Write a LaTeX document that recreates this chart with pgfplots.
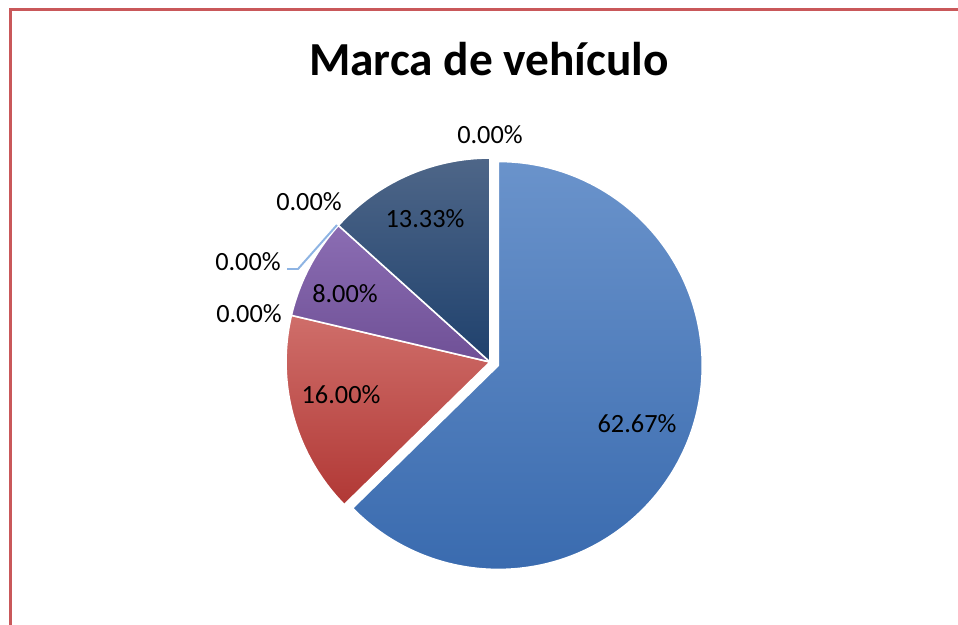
\documentclass[border=0pt]{standalone}
\usepackage{pgfplots}
\pgfplotsset{compat=1.18}
\usepackage{pgfplotstable}
\usepackage{fontspec}
\setmainfont{Carlito}
\definecolor{topc0}{HTML}{6A93CB}\definecolor{botc0}{HTML}{3A6BAF}
\definecolor{topc1}{HTML}{CF6E6A}\definecolor{botc1}{HTML}{B13835}
\definecolor{topc2}{HTML}{AFCB74}\definecolor{botc2}{HTML}{86A646}
\definecolor{topc3}{HTML}{8B6DB3}\definecolor{botc3}{HTML}{6F5096}
\definecolor{topc4}{HTML}{6BC0D6}\definecolor{botc4}{HTML}{3397B1}
\definecolor{topc5}{HTML}{F9AC6C}\definecolor{botc5}{HTML}{E07F2C}
\definecolor{topc6}{HTML}{4E6688}\definecolor{botc6}{HTML}{1F416D}
\definecolor{topc7}{HTML}{8E4441}\definecolor{botc7}{HTML}{6A2220}
\definecolor{frame}{HTML}{C9585A}
\definecolor{leader}{HTML}{8EB4E3}
\begin{document}
\pgfplotstableread{
idx value explode
0 62.67 9
1 16.00 0
2 0.00 0
3 8.00 0
4 0.00 0
5 0.00 0
6 13.33 0
7 0.00 0
}\piedata
\begin{tikzpicture}
\path[use as bounding box] (0,0) rectangle (364pt,237.47pt);
\def\cum{0}%
\pgfplotsforeachungrouped \i in {0,...,7}{%
  \pgfplotstablegetelem{\i}{value}\of\piedata
  \let\v\pgfplotsretval
  \pgfplotstablegetelem{\i}{explode}\of\piedata
  \let\ex\pgfplotsretval
  \pgfmathsetmacro\sa{90-3.6*\cum}%
  \pgfmathsetmacro\cum{\cum+\v}%
  \pgfmathsetmacro\ea{90-3.6*\cum}%
  \pgfmathsetmacro\ma{(\sa+\ea)/2}%
  \pgfmathsetmacro\cx{490+\ex*cos(\ma)}%
  \pgfmathsetmacro\cy{263+\ex*sin(\ma)}%
  \expandafter\xdef\csname sa\i\endcsname{\sa}%
  \expandafter\xdef\csname ea\i\endcsname{\ea}%
  \expandafter\xdef\csname cx\i\endcsname{\cx}%
  \expandafter\xdef\csname cy\i\endcsname{\cy}%
  \ifdim\v pt>0pt \expandafter\xdef\csname vis\i\endcsname{1}%
  \else \expandafter\xdef\csname vis\i\endcsname{0}\fi
}%
\begin{axis}[at={(0,0)}, anchor=south west, width=364pt, height=237.47pt,
  scale only axis, xmin=0, xmax=958, ymin=0, ymax=625, hide axis, clip=false]
\pgfplotsinvokeforeach{0,...,7}{%
  \ifnum\csname vis#1\endcsname=1
  \shadedraw[top color=topc#1, bottom color=botc#1, draw=white, line width=0.6pt, line join=round]
    (axis cs:\csname cx#1\endcsname,\csname cy#1\endcsname) -- ++(\csname sa#1\endcsname:77.5pt)
    arc[start angle=\csname sa#1\endcsname, end angle=\csname ea#1\endcsname, radius=77.5pt] -- cycle;
  \fi
}
\draw[frame, line width=1.1pt] (axis cs:10.5,0) -- (axis cs:10.5,615.5) -- (axis cs:958,615.5);
\draw[leader, line width=0.75pt] (axis cs:287,356) -- (axis cs:298,356) -- (axis cs:337,400);
\node[anchor=base, font=\fontsize{18}{21}\selectfont\bfseries] at (axis cs:489,549) {Marca de vehículo};
\begin{scope}[every node/.style={font=\fontsize{10}{12}\selectfont, inner sep=0pt}]
\node at (axis cs:637,201) {62.67\%};
\node at (axis cs:341,230) {16.00\%};
\node at (axis cs:345,331) {8.00\%};
\node at (axis cs:425,406) {13.33\%};
\node at (axis cs:490,490) {0.00\%};
\node at (axis cs:309,423) {0.00\%};
\node at (axis cs:248,363) {0.00\%};
\node at (axis cs:249,311) {0.00\%};
\end{scope}
\end{axis}
\end{tikzpicture}
\end{document}
